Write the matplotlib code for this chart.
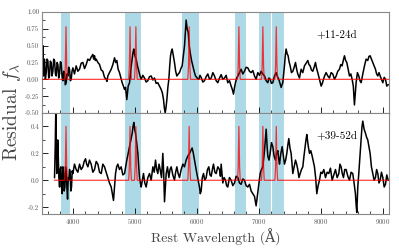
import numpy as np
import matplotlib
matplotlib.use("Agg")
import matplotlib.pyplot as plt
from matplotlib.ticker import MultipleLocator, FormatStrFormatter

#======================
# data
#======================
# He I line regions and centres
bands = [(3800, 3960), (4830, 5100), (5750, 6030), (6600, 6800), (6980, 7190), (7190, 7400)]
he_lines = [3889, 4922, 5016, 5876, 6678, 7065, 7281]
peak_top = 0.78
peak_bot = 0.40
labels = ["+11-24d", "+39-52d"]

# +11-24d residual spectrum (wavelength, residual)
spec_top = [
    (3500, 0.15), (3516, 0.5), (3527, 0.05), (3543, 0.3), (3556, 0.0), (3570, 0.1), (3583, 0.3),
    (3596, 0.28), (3610, 0.02), (3623, 0.05), (3636, 0.27), (3650, 0.25), (3663, 0.05),
    (3677, 0.12), (3690, 0.3), (3704, 0.28), (3718, 0.08), (3731, 0.05), (3745, 0.25),
    (3758, 0.22), (3771, 0.02), (3785, 0.08), (3798, 0.26), (3811, 0.25), (3825, 0.05),
    (3838, -0.02), (3852, 0.12), (3865, 0.1), (3878, -0.08), (3892, -0.05), (3905, 0.08),
    (3919, 0.05), (3932, 0.18), (3946, 0.15), (3960, -0.02), (3973, 0.0), (3986, 0.12),
    (4000, 0.17), (4026, 0.08), (4053, 0.2), (4080, 0.12), (4107, 0.15), (4134, 0.24),
    (4161, 0.25), (4188, 0.16), (4215, 0.22), (4241, 0.3), (4268, 0.28), (4295, 0.33),
    (4322, 0.37), (4335, 0.3), (4349, 0.35), (4362, 0.28), (4376, 0.3), (4403, 0.25),
    (4430, 0.22), (4456, 0.14), (4483, 0.12), (4510, 0.03), (4537, 0.0), (4550, -0.03),
    (4564, 0.05), (4590, 0.1), (4618, 0.15), (4645, 0.22), (4672, 0.32), (4690, 0.25),
    (4709, 0.28), (4730, 0.15), (4752, 0.1), (4774, 0.02), (4795, -0.05), (4815, -0.1),
    (4833, -0.15), (4850, -0.12), (4870, -0.3), (4892, -0.1), (4914, -0.05), (4935, 0.15),
    (4957, 0.3), (4970, 0.4), (4983, 0.45), (5000, 0.35), (5021, 0.3), (5042, 0.2),
    (5064, 0.12), (5083, 0.05), (5102, 0.0), (5128, 0.06), (5155, 0.02), (5182, -0.04),
    (5209, -0.02), (5236, 0.04), (5263, 0.05), (5290, -0.01), (5317, 0.02), (5343, -0.06),
    (5370, -0.05), (5397, -0.1), (5424, -0.15), (5443, -0.2), (5462, -0.3), (5475, -0.42),
    (5489, -0.5), (5502, -0.42), (5516, -0.3), (5532, -0.12), (5548, 0.0), (5562, 0.2),
    (5575, 0.35), (5590, 0.42), (5602, 0.45), (5620, 0.35), (5639, 0.25), (5658, 0.12),
    (5677, 0.05), (5700, 0.08), (5720, 0.1), (5742, 0.16), (5763, 0.2), (5782, 0.35),
    (5801, 0.5), (5815, 0.7), (5827, 0.88), (5843, 0.75), (5860, 0.7), (5876, 0.5),
    (5892, 0.4), (5914, 0.28), (5935, 0.2), (5956, 0.12), (5978, 0.05), (6005, 0.02),
    (6032, 0.0), (6050, 0.06), (6069, 0.03), (6096, -0.04), (6123, -0.02), (6150, 0.04),
    (6177, 0.08), (6204, 0.0), (6231, 0.02), (6258, 0.1), (6284, 0.05), (6311, -0.02),
    (6338, -0.05), (6365, 0.02), (6392, 0.07), (6419, 0.0), (6446, 0.02), (6472, 0.06),
    (6499, -0.05), (6526, -0.02), (6553, -0.1), (6572, -0.15), (6591, -0.22), (6607, -0.12),
    (6623, -0.05), (6642, 0.02), (6661, 0.05), (6688, 0.1), (6714, 0.15), (6741, 0.08),
    (6768, 0.12), (6795, 0.18), (6822, 0.17), (6849, 0.12), (6876, 0.1), (6903, 0.13),
    (6930, 0.05), (6956, 0.0), (6983, 0.1), (7010, 0.06), (7037, 0.12), (7064, 0.08),
    (7091, 0.05), (7118, -0.02), (7145, -0.05), (7163, 0.02), (7182, 0.0), (7204, -0.06),
    (7225, -0.05), (7252, 0.05), (7279, 0.1), (7300, 0.04), (7322, 0.0), (7341, -0.06),
    (7360, -0.12), (7373, -0.08), (7386, -0.05), (7400, 0.08), (7413, 0.2), (7426, 0.35),
    (7440, 0.45), (7456, 0.38), (7472, 0.35), (7488, 0.26), (7505, 0.2), (7526, 0.1),
    (7548, 0.12), (7570, 0.18), (7591, 0.25), (7610, 0.15), (7628, 0.08), (7655, 0.02),
    (7682, 0.15), (7709, 0.1), (7736, 0.2), (7763, 0.24), (7790, 0.28), (7808, 0.22),
    (7827, 0.2), (7848, 0.14), (7870, 0.12), (7892, 0.18), (7913, 0.25), (7932, 0.16),
    (7951, 0.1), (7978, 0.0), (8005, -0.1), (8024, -0.06), (8042, 0.0), (8064, 0.06),
    (8085, 0.1), (8112, 0.05), (8139, 0.02), (8166, 0.1), (8193, 0.08), (8220, 0.0),
    (8247, 0.05), (8273, 0.12), (8300, 0.15), (8322, 0.22), (8343, 0.2), (8362, 0.28),
    (8381, 0.35), (8400, 0.28), (8419, 0.25), (8440, 0.15), (8462, 0.05), (8484, 0.08),
    (8505, 0.0), (8524, -0.1), (8542, -0.38), (8556, -0.2), (8569, -0.05), (8590, 0.1),
    (8612, 0.05), (8631, -0.02), (8650, -0.05), (8677, 0.08), (8704, 0.2), (8730, 0.3),
    (8757, 0.28), (8776, 0.34), (8795, 0.35), (8816, 0.3), (8838, 0.25), (8860, 0.2),
    (8881, 0.15), (8900, 0.08), (8919, 0.05), (8938, 0.1), (8957, 0.05), (8978, 0.0),
    (9000, -0.05), (9022, 0.03), (9043, 0.0), (9064, -0.1), (9086, -0.08),
]

# +39-52d residual spectrum (wavelength, residual)
spec_bot = [
    (3704, 0.02), (3715, 0.25), (3725, 0.55), (3731, 0.3), (3740, 0.05), (3747, 0.1),
    (3755, 0.3), (3763, 0.2), (3774, 0.02), (3785, -0.05), (3795, 0.08), (3806, 0.1),
    (3817, -0.05), (3828, -0.1), (3838, 0.1), (3849, 0.05), (3860, -0.08), (3871, -0.05),
    (3881, 0.1), (3892, 0.08), (3903, -0.05), (3914, -0.14), (3925, 0.02), (3935, 0.0),
    (3946, 0.08), (3957, 0.05), (3968, -0.08), (3978, -0.05), (3989, 0.07), (4000, 0.05),
    (4026, 0.12), (4053, 0.08), (4080, 0.06), (4107, 0.12), (4134, 0.08), (4161, 0.1),
    (4182, 0.14), (4204, 0.16), (4222, 0.12), (4242, 0.1), (4268, 0.15), (4295, 0.12),
    (4322, 0.06), (4349, 0.08), (4376, 0.14), (4403, 0.12), (4430, 0.06), (4457, 0.05),
    (4483, 0.12), (4510, 0.1), (4537, 0.06), (4564, 0.02), (4590, -0.02), (4618, -0.05),
    (4636, -0.1), (4655, -0.15), (4672, -0.05), (4688, 0.05), (4706, 0.1), (4725, 0.12),
    (4752, 0.08), (4779, 0.1), (4806, 0.04), (4833, 0.05), (4852, 0.1), (4870, 0.15),
    (4892, 0.2), (4914, 0.25), (4935, 0.3), (4957, 0.35), (4970, 0.4), (4983, 0.43),
    (4996, 0.38), (5010, 0.35), (5029, 0.28), (5048, 0.2), (5062, 0.1), (5075, 0.02),
    (5089, -0.02), (5102, -0.05), (5120, 0.0), (5139, 0.05), (5160, -0.02), (5182, -0.05),
    (5209, 0.02), (5236, 0.05), (5263, 0.0), (5290, 0.1), (5312, 0.06), (5333, 0.15),
    (5352, 0.08), (5370, 0.05), (5390, 0.12), (5408, 0.08), (5430, 0.02), (5451, 0.2),
    (5465, 0.05), (5478, -0.16), (5492, -0.05), (5505, 0.05), (5526, 0.1), (5548, 0.02),
    (5567, 0.08), (5586, 0.1), (5612, 0.04), (5639, 0.0), (5658, 0.06), (5677, 0.1),
    (5698, 0.05), (5720, 0.02), (5747, 0.08), (5774, 0.12), (5800, 0.1), (5827, 0.15),
    (5854, 0.18), (5881, 0.2), (5902, 0.22), (5924, 0.24), (5943, 0.2), (5962, 0.15),
    (5981, 0.1), (6000, 0.05), (6021, 0.0), (6042, -0.05), (6055, -0.1), (6069, -0.08),
    (6088, 0.02), (6107, 0.05), (6128, 0.0), (6150, 0.02), (6171, 0.08), (6193, 0.1),
    (6212, 0.04), (6231, 0.03), (6250, 0.08), (6268, 0.12), (6290, 0.06), (6311, 0.05),
    (6338, 0.1), (6365, 0.08), (6380, 0.03), (6392, 0.12), (6405, 0.05), (6419, -0.02),
    (6440, 0.02), (6462, 0.0), (6480, -0.04), (6499, -0.05), (6526, 0.02), (6553, 0.0),
    (6580, -0.04), (6607, -0.02), (6634, 0.03), (6661, 0.02), (6688, -0.02), (6714, -0.03),
    (6741, 0.01), (6768, 0.0), (6795, -0.04), (6822, -0.05), (6849, -0.03), (6876, -0.08),
    (6903, -0.1), (6930, -0.12), (6945, -0.16), (6956, -0.19), (6970, -0.14), (6983, -0.1),
    (7002, -0.02), (7021, 0.05), (7042, 0.08), (7064, 0.1), (7078, 0.16), (7091, 0.22),
    (7105, 0.3), (7118, 0.38), (7132, 0.26), (7145, 0.18), (7163, 0.15), (7182, 0.2),
    (7204, 0.28), (7225, 0.25), (7246, 0.18), (7268, 0.15), (7287, 0.2), (7306, 0.22),
    (7320, 0.16), (7333, 0.12), (7355, 0.2), (7376, 0.25), (7395, 0.18), (7413, 0.12),
    (7432, 0.15), (7451, 0.2), (7467, 0.26), (7483, 0.31), (7502, 0.24), (7521, 0.2),
    (7535, 0.12), (7548, 0.05), (7570, 0.1), (7591, 0.15), (7610, 0.12), (7628, 0.08),
    (7647, 0.02), (7666, 0.05), (7688, 0.08), (7709, 0.1), (7728, 0.18), (7747, 0.25),
    (7760, 0.3), (7774, 0.34), (7795, 0.26), (7817, 0.2), (7838, 0.22), (7860, 0.18),
    (7878, 0.14), (7897, 0.1), (7916, 0.02), (7935, -0.1), (7956, -0.04), (7978, 0.0),
    (8000, 0.06), (8021, 0.05), (8048, 0.08), (8075, 0.02), (8101, 0.06), (8128, 0.05),
    (8155, 0.09), (8182, 0.0), (8209, 0.04), (8236, 0.08), (8263, 0.02), (8290, 0.05),
    (8308, 0.12), (8327, 0.1), (8346, 0.05), (8365, 0.02), (8386, 0.08), (8408, 0.08),
    (8435, 0.03), (8462, 0.0), (8488, 0.06), (8515, 0.05), (8536, -0.02), (8558, -0.1),
    (8569, -0.18), (8580, -0.24), (8596, -0.05), (8612, 0.05), (8631, 0.18), (8650, 0.3),
    (8664, 0.4), (8677, 0.44), (8698, 0.38), (8720, 0.35), (8738, 0.32), (8757, 0.3),
    (8776, 0.25), (8795, 0.2), (8816, 0.1), (8838, 0.05), (8860, 0.0), (8881, 0.02),
    (8900, 0.08), (8919, 0.05), (8938, -0.02), (8957, 0.0), (8978, 0.06), (9000, 0.02),
    (9022, -0.05), (9043, -0.03), (9064, 0.04), (9086, 0.0),
]


def line_model(start, stop, amp, half=22):
    # flat zero baseline with a narrow spike at each He I line
    xs = [start]
    ys = [0.0]
    for c in he_lines:
        xs += [c - half, c - half / 2, c, c + half / 2, c + half]
        ys += [0.0, 0.25 * amp, amp, 0.25 * amp, 0.0]
    xs.append(stop)
    ys.append(0.0)
    return xs, ys


plt.rcParams['font.family'] = ['cmr10', 'DejaVu Serif']
plt.rcParams['mathtext.fontset'] = 'cm'
plt.rcParams['axes.formatter.use_mathtext'] = True

fig = plt.figure(figsize=(3.99, 2.49), dpi=100)
ax1 = fig.add_axes([0.105, 0.546, 0.87, 0.406])
ax2 = fig.add_axes([0.105, 0.141, 0.87, 0.405])

grey = '#888888'
for ax, spec, amp, lab in [(ax1, spec_top, peak_top, labels[0]),
                           (ax2, spec_bot, peak_bot, labels[1])]:
    w = [p[0] for p in spec]
    f = [p[1] for p in spec]
    for lo, hi in bands:
        ax.axvspan(lo, hi, facecolor='#add8e6', edgecolor='white', linewidth=0.8, zorder=0)
    ax.plot(w, f, color='black', linewidth=1.1, zorder=2)
    mx, my = line_model(w[0], 9100, amp)
    ax.plot(mx, my, color='red', alpha=0.75, linewidth=0.9, zorder=3)
    ax.set_xlim(3500, 9100)
    ax.xaxis.set_major_locator(MultipleLocator(1000))
    ax.xaxis.set_minor_locator(MultipleLocator(200))
    ax.tick_params(which='both', direction='in', labelsize=5, labelcolor='#555555',
                   top=False, right=False, pad=2)
    ax.tick_params(which='major', length=4, width=0.6)
    ax.tick_params(which='minor', length=2.5, width=0.5)
    for s in ax.spines.values():
        s.set_color(grey)
        s.set_linewidth(0.8)
    ax.text(0.85, 0.77, lab, transform=ax.transAxes, fontsize=8, ha='center', va='center')

ax1.set_ylim(-0.5, 1.0)
ax1.yaxis.set_major_locator(MultipleLocator(0.25))
ax1.yaxis.set_minor_locator(MultipleLocator(0.125))
ax1.yaxis.set_major_formatter(FormatStrFormatter('%.2f'))
ax1.tick_params(axis='x', labelbottom=False)

ax2.set_ylim(-0.25, 0.5)
ax2.yaxis.set_major_locator(MultipleLocator(0.2))
ax2.yaxis.set_minor_locator(MultipleLocator(0.1))
ax2.yaxis.set_major_formatter(FormatStrFormatter('%.1f'))

ax2.set_xlabel('Rest Wavelength (Å)', fontsize=10, color='#444444', labelpad=2)
fig.text(0.031, 0.552, r'Residual $f_\lambda$', rotation=90, fontsize=14, color='#444444',
         ha='center', va='center')

fig.savefig('out.png', dpi=100)
